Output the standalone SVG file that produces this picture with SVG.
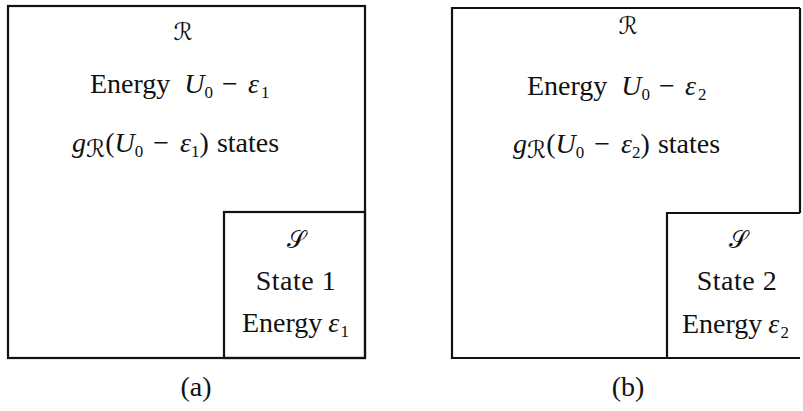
<svg xmlns="http://www.w3.org/2000/svg" width="803" height="411" viewBox="0 0 803 411">
<style>
.box{fill:none;stroke:#111;stroke-width:2.2}
.t{font-family:"Liberation Serif","Times New Roman",serif;font-size:28px;fill:#111}
.i{font-style:italic}
.sub{font-size:17px}
.sym{font-family:"DejaVu Serif","DejaVu Sans",serif;font-size:24px;fill:#111}
</style>
<g id="reservoir-a">
<rect class="box" x="8" y="6" width="357" height="352"/>
<text class="sym" x="183" y="40" text-anchor="middle">ℛ</text>
<text class="t" x="90" y="93" font-family="Liberation Serif">Energy<tspan class="i" dx="14">U</tspan><tspan class="sub" dy="5">0</tspan><tspan dy="-5" dx="9">−</tspan><tspan class="i" dx="10">ε</tspan><tspan class="sub" dy="5" dx="2">1</tspan></text>
<text class="t" x="72" y="152" font-family="Liberation Serif"><tspan class="i">g</tspan><tspan class="sym" font-size="16" dy="5">ℛ</tspan><tspan dy="-5">(</tspan><tspan class="i">U</tspan><tspan class="sub" dy="5">0</tspan><tspan dy="-5" dx="10">−</tspan><tspan class="i" dx="11">ε</tspan><tspan class="sub" dy="5">1</tspan><tspan dy="-5">)</tspan><tspan dx="8">states</tspan></text>
</g>
<g id="system-a">
<rect class="box" x="224" y="212" width="141" height="146"/>
<text class="sym" x="296" y="248" text-anchor="middle" font-size="26">𝒮</text>
<text class="t" x="296" y="290" text-anchor="middle" font-family="Liberation Serif" letter-spacing="0.5">State 1</text>
<text class="t" x="242" y="332" font-family="Liberation Serif">Energy<tspan class="i" dx="6">ε</tspan><tspan class="sub" dy="5" dx="1">1</tspan></text>
</g>
<text id="label-a" class="t" x="196" y="396" text-anchor="middle" font-family="Liberation Serif" font-size="25">(a)</text>
<g id="reservoir-b">
<path class="box" d="M800,8 H452 V358 H800"/>
<path class="box" d="M800,8 V213"/>
<text class="sym" x="628" y="34" text-anchor="middle">ℛ</text>
<text class="t" x="527" y="95" font-family="Liberation Serif">Energy<tspan class="i" dx="14">U</tspan><tspan class="sub" dy="5">0</tspan><tspan dy="-5" dx="9">−</tspan><tspan class="i" dx="10">ε</tspan><tspan class="sub" dy="5" dx="2">2</tspan></text>
<text class="t" x="513" y="153" font-family="Liberation Serif"><tspan class="i">g</tspan><tspan class="sym" font-size="16" dy="5">ℛ</tspan><tspan dy="-5">(</tspan><tspan class="i">U</tspan><tspan class="sub" dy="5">0</tspan><tspan dy="-5" dx="10">−</tspan><tspan class="i" dx="11">ε</tspan><tspan class="sub" dy="5">2</tspan><tspan dy="-5">)</tspan><tspan dx="8">states</tspan></text>
</g>
<g id="system-b">
<path class="box" d="M800,213 H667 V358"/>
<text class="sym" x="738" y="248" text-anchor="middle" font-size="26">𝒮</text>
<text class="t" x="737" y="290" text-anchor="middle" font-family="Liberation Serif" letter-spacing="0.5">State 2</text>
<text class="t" x="682" y="333" font-family="Liberation Serif">Energy<tspan class="i" dx="6">ε</tspan><tspan class="sub" dy="5" dx="1">2</tspan></text>
</g>
<text id="label-b" class="t" x="628" y="396" text-anchor="middle" font-family="Liberation Serif" font-size="25">(b)</text>
<g id="connectors"/>
</svg>
